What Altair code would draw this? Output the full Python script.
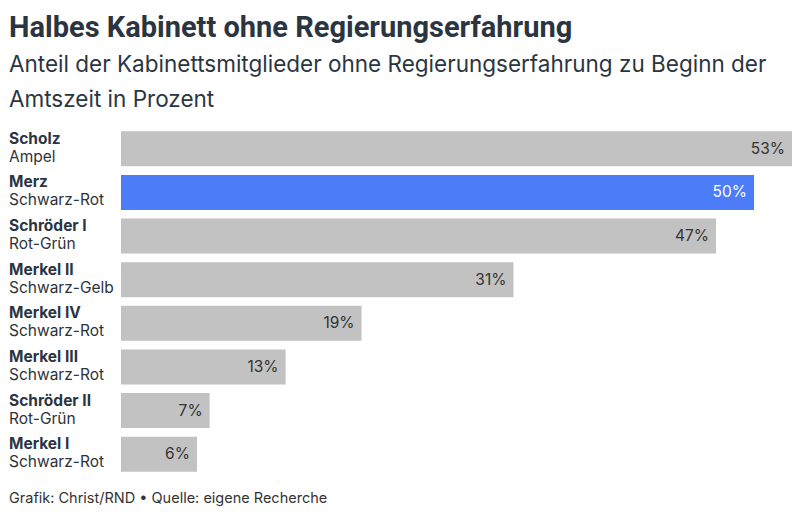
import altair as alt
import pandas as pd

names = ["Scholz", "Merz", "Schröder I", "Merkel II", "Merkel IV", "Merkel III", "Schröder II", "Merkel I"]
coalitions = ["Ampel", "Schwarz-Rot", "Rot-Grün", "Schwarz-Gelb", "Schwarz-Rot", "Schwarz-Rot", "Rot-Grün", "Schwarz-Rot"]
values = [53, 50, 47, 31, 19, 13, 7, 6]
highlight = [False, True, False, False, False, False, False, False]

df = pd.DataFrame({
    "name": names,
    "coalition": coalitions,
    "value": values,
    "hl": highlight,
})
df["label"] = df["value"].astype(str) + "%"

W, H = 671, 349
DARK = "#2b3541"

y = alt.Y("name:N", sort=names, axis=None,
          scale=alt.Scale(paddingInner=0.2, paddingOuter=0.1))
x = alt.X("value:Q", axis=None, scale=alt.Scale(domain=[0, 53], nice=False, zero=True))

base = alt.Chart(df)

bars = base.mark_bar().encode(
    x=x, y=y,
    color=alt.condition("datum.hl", alt.value("#4c7cf7"), alt.value("#c2c2c2")),
)

vals = base.mark_text(align="right", baseline="middle", dx=-7, fontSize=15.5, font="Inter").encode(
    x=x, y=y, text="label:N",
    color=alt.condition("datum.hl", alt.value("#ffffff"), alt.value("#333333")),
)

name_txt = base.mark_text(align="left", baseline="alphabetic", dy=-5, fontSize=15.5, font="Inter",
                          fontWeight="bold", color=DARK).encode(
    x=alt.value(-112), y=y, text="name:N")

coal_txt = base.mark_text(align="left", baseline="alphabetic", dy=13, fontSize=15.5, font="Inter",
                          color="#2e3338").encode(
    x=alt.value(-112), y=y, text="coalition:N")

footer = alt.Chart(pd.DataFrame({"t": ["Grafik: Christ/RND • Quelle: eigene Recherche"]})).mark_text(
    align="left", baseline="alphabetic", fontSize=14.5, font="Inter", color="#333333"
).encode(x=alt.value(-112), y=alt.value(H + 27), text="t:N")

chart = alt.layer(bars, vals, name_txt, coal_txt, footer).properties(
    width=W, height=H,
    autosize=alt.AutoSizeParams(type="none"),
    padding={"left": 113, "top": 119, "right": 0, "bottom": 32},
    title=alt.TitleParams(
        text="Halbes Kabinett ohne Regierungserfahrung",
        subtitle=["Anteil der Kabinettsmitglieder ohne Regierungserfahrung zu Beginn der", "Amtszeit in Prozent"],
        anchor="start", frame="group", dx=-112, offset=16,
        font="Roboto", fontSize=29, fontWeight="bold", color=DARK,
        subtitleFont="Inter", subtitleFontSize=22.5, subtitleColor=DARK,
        subtitleLineHeight=35, subtitlePadding=11,
    ),
).configure_view(stroke=None)

chart.save("out.html", embed_options={"renderer": "svg", "actions": False})
